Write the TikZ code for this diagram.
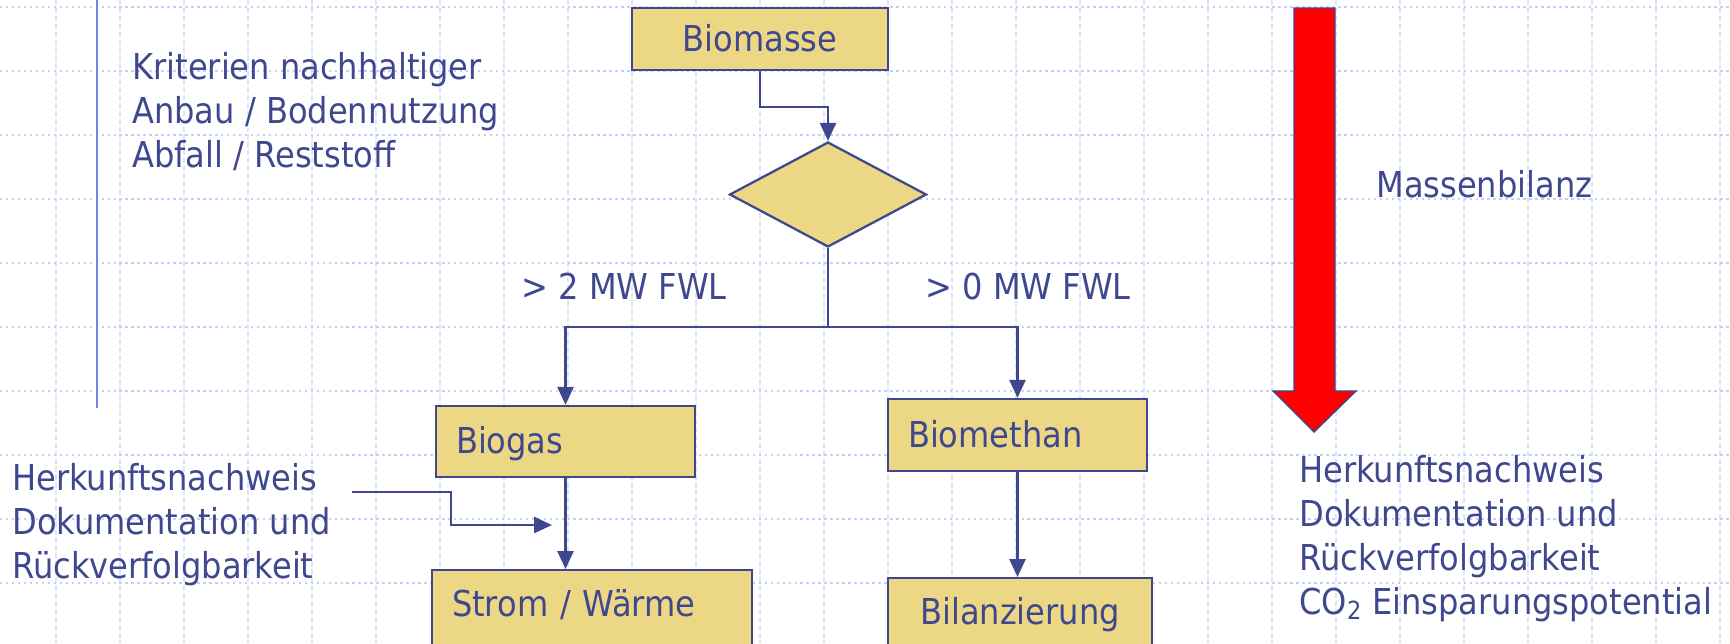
\documentclass[tikz,border=0pt]{standalone}
\usepackage{fontspec}
\setmainfont{DejaVu Sans Condensed}
\usetikzlibrary{arrows.meta, shapes.geometric}
\definecolor{ink}{RGB}{63,72,143}
\definecolor{sand}{RGB}{236,216,132}
\definecolor{gridblue}{RGB}{196,208,245}
\definecolor{ruleblue}{RGB}{112,132,240}
\definecolor{signal}{RGB}{255,0,0}
\newcommand{\flowfont}{\fontsize{20.3}{25}\selectfont}

\begin{document}
\begin{tikzpicture}[x=0.02cm, y=-0.02cm, >={Triangle[length=0.36cm, width=0.32cm]},
  box/.style={rectangle, draw=ink, fill=sand, line width=1.3pt, text=ink, font=\flowfont,
              inner xsep=0.4cm, text height=0.6cm, text depth=0.12cm},
  flow/.style={ink, line width=1.5pt},
  note/.style={text=ink, font=\flowfont, align=left, inner sep=0pt, anchor=base west},
  gridh/.style={gridblue, line width=1.1pt, dash pattern=on 1.4pt off 2pt},
  gridv/.style={gridblue!55, line width=0.9pt, dash pattern=on 3pt off 1.5pt}]

\useasboundingbox (0,0) rectangle (1730,643);
\clip (0,0) rectangle (1730,643);
\fill[white] (0,0) rectangle (1730,643);

% Background grid
\foreach \gx in {56,120,...,1720} \draw[gridv] (\gx,0) -- (\gx,643);
\foreach \gy in {7,71,...,647} \draw[gridh] (0,\gy) -- (1730,\gy);

% Left rule
\draw[ruleblue, line width=1.3pt] (97,0) -- (97,408);

% =========== FLOW ===========
\node[box, minimum width=5.12cm, minimum height=1.24cm, text width=4.32cm, align=center] (biomasse) at (760,39) {Biomasse};

\node[diamond, draw=ink, fill=sand, line width=1.3pt, minimum width=3.94cm, minimum height=2.1cm, inner sep=0pt] (weiche) at (828,194.5) {};

\node[box, minimum width=5.18cm, minimum height=1.42cm, text width=4.38cm, align=left] (biogas) at (565.5,441.5) {Biogas};
\node[box, minimum width=5.18cm, minimum height=1.44cm, text width=4.38cm, align=left] (biomethan) at (1017.5,435) {Biomethan};

\node[box, anchor=north, minimum width=6.4cm, text width=5.6cm, align=left, inner ysep=0.32cm, text depth=1cm] (strom) at (592,569) {Strom / Wärme};
\node[box, anchor=north, minimum width=5.28cm, text width=4.48cm, align=center, inner ysep=0.32cm, text depth=1cm] (bilanz) at (1020,577) {Bilanzierung};

\draw[flow, ->] (biomasse.south) -- ++(0,36) -| (weiche.north);

\coordinate (verteiler) at (828,327);
\draw[flow] (weiche.south) -- (verteiler);
\draw[flow, ->] (verteiler) -| (biogas.north);
\draw[flow, ->] (verteiler) -| (biomethan.north);

\draw[flow, ->] (biogas.south) -- (biogas.south |- strom.north);
\draw[flow, ->] (biomethan.south) -- (biomethan.south |- bilanz.north);

% Herkunft input
\coordinate (hstart) at (352,492);
\coordinate (hend) at (552,525);
\draw[flow, ->] (hstart) -- ++(99,0) |- (hend);

% Branch labels
\node[note] (mwzwei) at (521,299) {> 2 MW FWL};
\node[note] (mwnull) at (925,299) {> 0 MW FWL};

% =========== MASS BALANCE ===========
\draw[ink, fill=signal, line width=0.8pt] (1294,8) -- (1335,8) -- (1335,391) -- (1356,391)
  -- (1314,432) -- (1273,391) -- (1294,391) -- cycle;
\node[note] (massen) at (1376,197) {Massenbilanz};

% Side notes (base = last line)
\node[note] (kriterien) at (132,167) {Kriterien nachhaltiger\\Anbau / Bodennutzung\\Abfall / Reststoff};
\node[note] (herkunftL) at (12,578) {Herkunftsnachweis\\Dokumentation und\\Rückverfolgbarkeit};
\node[note] (herkunftR) at (1299,614) {Herkunftsnachweis\\Dokumentation und\\Rückverfolgbarkeit\\CO\textsubscript{2} Einsparungspotential};

\end{tikzpicture}
\end{document}
